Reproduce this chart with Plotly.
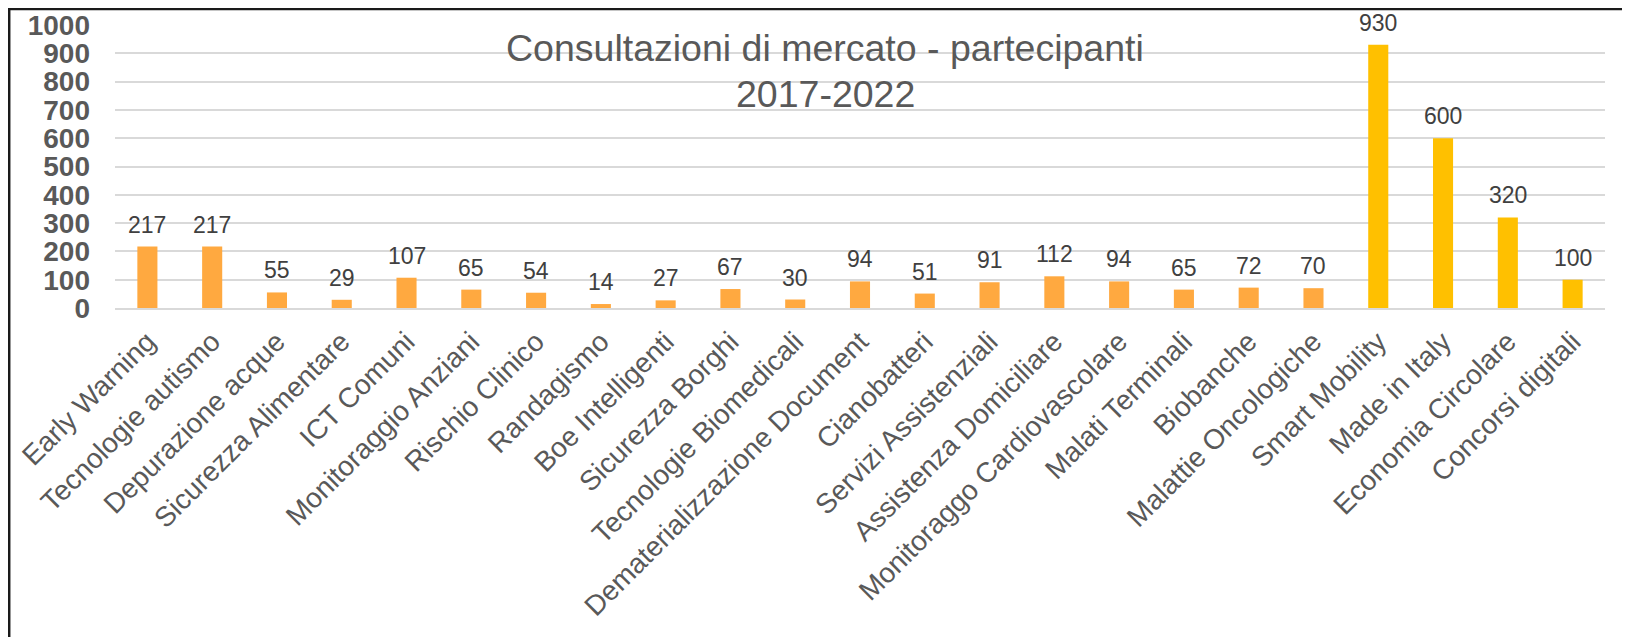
import plotly.graph_objects as go

categories = [
    "Early Warning", "Tecnologie autismo", "Depurazione acque", "Sicurezza Alimentare",
    "ICT Comuni", "Monitoraggio Anziani", "Rischio Clinico", "Randagismo",
    "Boe Intelligenti", "Sicurezza Borghi", "Tecnologie Biomedicali",
    "Dematerializzazione Document", "Cianobatteri", "Servizi Assistenziali",
    "Assistenza Domiciliare", "Monitoraggo Cardiovascolare", "Malati Terminali",
    "Biobanche", "Malattie Oncologiche", "Smart Mobility", "Made in Italy",
    "Economia Circolare", "Concorsi digitali",
]
values = [217, 217, 55, 29, 107, 65, 54, 14, 27, 67, 30, 94, 51, 91, 112, 94, 65, 72, 70,
          930, 600, 320, 100]
groups = ["a"] * 19 + ["b"] * 4
title_lines = ["Consultazioni di mercato - partecipanti", "2017-2022"]
y_ticks = list(range(0, 1001, 100))

color_map = {"a": "#FFA940", "b": "#FFC000"}
colors = [color_map[g] for g in groups]

FONT = "Arial, 'Liberation Sans', sans-serif"

W, H = 1622, 629
L, R, T, B = 107, 25, 17, 329
PW = W - L - R
PH = H - T - B


def px(xf):
    return (xf - L) / PW


def py(yf):
    return (H - B - yf) / PH


fig = go.Figure()
fig.add_trace(go.Bar(
    x=categories, y=values,
    marker=dict(color=colors, line=dict(width=0)),
    width=0.31,
    showlegend=False,
    hoverinfo="x+y",
))

annotations = []
for c, v in zip(categories, values):
    annotations.append(dict(
        x=c, y=v, xref="x", yref="y", text=str(v), showarrow=False,
        yanchor="bottom", yshift=7,
        font=dict(family=FONT, size=23, color="#404040"),
    ))

for line, yc in zip(title_lines, [40, 86.5]):
    annotations.append(dict(
        x=px(817), y=py(yc), xref="paper", yref="paper",
        text=line, showarrow=False, xanchor="center", yanchor="middle",
        font=dict(family=FONT, size=37.5, color="#595959"),
    ))

shapes = [
    dict(type="line", xref="paper", yref="paper",
         x0=px(1.2), x1=px(1.2), y0=py(0), y1=py(H + 5),
         line=dict(color="#1a1a1a", width=2.5)),
    dict(type="line", xref="paper", yref="paper",
         x0=px(0), x1=px(W + 5), y0=py(1), y1=py(1),
         line=dict(color="#1a1a1a", width=2.5)),
]

fig.update_layout(
    width=W, height=H,
    margin=dict(l=L, r=R, t=T, b=B, autoexpand=False),
    paper_bgcolor="white", plot_bgcolor="white",
    annotations=annotations, shapes=shapes,
    bargap=0.69,
    font=dict(family=FONT),
)
fig.update_xaxes(
    tickangle=-45, automargin=False, showgrid=False,
    tickfont=dict(family=FONT, size=28, color="#595959"),
    showline=True, linecolor="#D9D9D9", linewidth=2,
    ticks="", ticklabelstandoff=4,
)
fig.update_yaxes(
    range=[0, 1000], tickvals=y_ticks, automargin=False,
    showgrid=True, gridcolor="#D9D9D9", gridwidth=1.5,
    zeroline=False, showline=False,
    tickfont=dict(family=FONT, size=28, color="#595959", weight="bold"),
    ticklabelstandoff=24,
)

fig.write_html("out.html")
